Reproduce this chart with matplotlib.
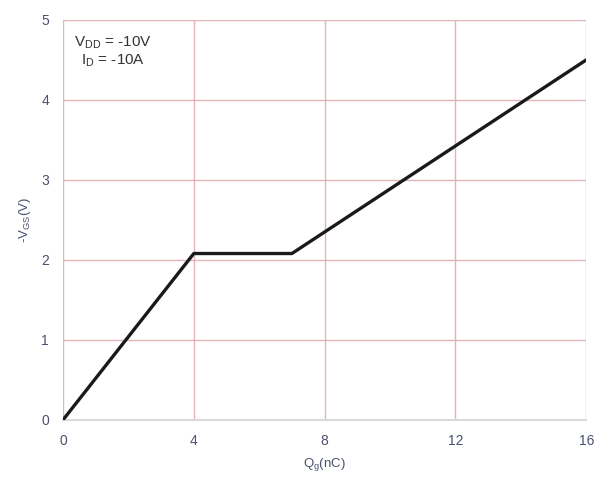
import matplotlib
matplotlib.use("Agg")
import matplotlib.pyplot as plt

plt.rcParams['font.family'] = ['Liberation Sans', 'DejaVu Sans']

qg = [0, 4, 7, 16]
vgs = [0, 2.08, 2.08, 4.5]
xticks = [0, 4, 8, 12, 16]
yticks = [0, 1, 2, 3, 4, 5]

fig = plt.figure(figsize=(6, 4.86), dpi=100)
ax = fig.add_axes([0.105, 0.136, 0.872, 0.823])
ax.plot(qg, vgs, color='#1a1a1a', lw=2.4, solid_capstyle='round', zorder=3)
ax.set_xlim(0, 16)
ax.set_ylim(0, 5)
ax.set_xticks(xticks)
ax.set_yticks(yticks)
ax.grid(True, color='#e2b4b8', lw=1.0)
for s in ['top', 'right', 'left']:
    ax.spines[s].set_visible(False)
ax.spines['bottom'].set_color('#d9d9d9')
ax.spines['bottom'].set_linewidth(1.5)
ax.tick_params(length=0, labelsize=10, colors='#4a5070', pad=10)
ax.set_xlabel('Q$_\\mathregular{g}$(nC)', fontsize=9.5, color='#4a5070', labelpad=6)
ax.set_ylabel('-V$_\\mathregular{GS}$(V)', fontsize=9.5, color='#4a5070', labelpad=6)
ax.text(0.095, 0.965, 'V$_\\mathregular{DD}$ = -10V\nI$_\\mathregular{D}$ = -10A', transform=ax.transAxes,
        ha='center', va='top', fontsize=11, color='#333333', linespacing=1.1)
fig.savefig('out.png', dpi=100, facecolor='white')
